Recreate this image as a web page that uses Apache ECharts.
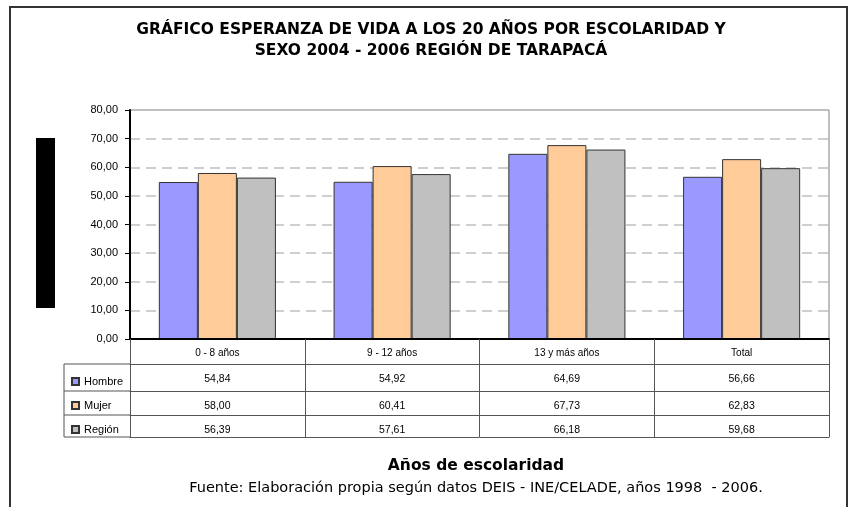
<!DOCTYPE html>
<html><head><meta charset="utf-8">
<script src="https://cdn.jsdelivr.net/npm/echarts@6/dist/echarts.min.js"></script>
<style>html,body{margin:0;padding:0;background:#fff}#c{width:851px;height:507px}</style>
</head><body><div id="c"></div>
<script>
var categories = ['0 - 8 años', '9 - 12 años', '13 y más años', 'Total'];
var seriesNames = ['Hombre', 'Mujer', 'Región'];
var hombre = [54.84, 54.92, 64.69, 56.66];
var mujer = [58.00, 60.41, 67.73, 62.83];
var region = [56.39, 57.61, 66.18, 59.68];
var colors = ['#9999FF', '#FFCC99', '#C0C0C0'];
var titleLines = ['GRÁFICO ESPERANZA DE VIDA A LOS 20 AÑOS POR ESCOLARIDAD Y', 'SEXO 2004 - 2006 REGIÓN DE TARAPACÁ'];
var xTitle = 'Años de escolaridad';
var source = 'Fuente: Elaboración propia según datos DEIS - INE/CELADE, años 1998  - 2006.';

var FONT = '"Liberation Sans", Arial, sans-serif';
var WFONT = '"DejaVu Sans", sans-serif';
function fmt(v){ return v.toFixed(2).replace('.', ','); }
var allVals = [hombre, mujer, region];

var G = {left:130, right:22, top:110, bottom:168};
var rowOffsets = [25, 52, 76, 98];

var xAxes = [{
  type:'category', data:categories, gridIndex:0, position:'bottom',
  axisLine:{show:true, lineStyle:{color:'#000', width:2}},
  axisTick:{show:true, interval:0, length:98, lineStyle:{color:'#555', width:1}},
  axisLabel:{color:'#000', fontSize:10, fontFamily:FONT, margin:9, interval:0},
  z:5
}];
for (var i=0;i<4;i++){
  (function(i){
    xAxes.push({
      type:'category', data:categories, gridIndex:0, position:'bottom', offset:rowOffsets[i],
      axisLine:{show:true, lineStyle:{color:'#555', width:1}},
      axisTick:{show:false},
      axisLabel:{show:i<3, color:'#000', fontSize:10.5, fontFamily:FONT, margin:10, interval:0,
        formatter:function(v, idx){ return i<3 ? fmt(allVals[i][idx]) : ''; }}
    });
  })(i);
}

var series = seriesNames.map(function(n, k){
  return {
    name:n, type:'bar', data:allVals[k], xAxisIndex:0, yAxisIndex:0,
    barGap:'0%', barCategoryGap:'33%',
    itemStyle:{color:colors[k], borderColor:'#333', borderWidth:1},
    emphasis:{disabled:true}
  };
});

var legL = 64, legR = 130;
var lineYs = [364, 391, 415, 437];
var graphics = [
  {type:'rect', shape:{x:10, y:7, width:837, height:520}, style:{fill:'none', stroke:'#333', lineWidth:2}, silent:true},
  {type:'rect', shape:{x:36, y:138, width:19, height:170}, style:{fill:'#000'}, silent:true},
  {type:'line', shape:{x1:legL, y1:lineYs[0], x2:legL, y2:lineYs[3]}, style:{stroke:'#555', lineWidth:1}},
  {type:'text', x:476, y:466, style:{text:xTitle, font:'bold 15.5px '+WFONT, fill:'#000', textAlign:'center', textVerticalAlign:'middle'}},
  {type:'text', x:476, y:488, style:{text:source, font:'14.5px '+WFONT, fill:'#000', textAlign:'center', textVerticalAlign:'middle'}},
  {type:'text', x:431, y:30, style:{text:titleLines[0], font:'bold 15.5px '+WFONT, fill:'#000', textAlign:'center', textVerticalAlign:'middle'}},
  {type:'text', x:431, y:51, style:{text:titleLines[1], font:'bold 15.5px '+WFONT, fill:'#000', textAlign:'center', textVerticalAlign:'middle'}}
];
lineYs.forEach(function(y){
  graphics.push({type:'line', shape:{x1:legL, y1:y, x2:legR, y2:y}, style:{stroke:'#555', lineWidth:1}});
});

var chart = echarts.init(document.getElementById('c'), null, {renderer:'canvas'});
chart.setOption({
  animation:false,
  backgroundColor:'#fff',
  legend:{data:seriesNames, orient:'vertical', left:66, top:371, itemWidth:7, itemHeight:7, itemGap:13,
    icon:'rect', textStyle:{fontFamily:FONT, fontSize:11, color:'#000'}, selectedMode:false},
  grid:{left:G.left, right:G.right, top:G.top, bottom:G.bottom, show:true, borderColor:'#808080', borderWidth:1, backgroundColor:'transparent'},
  xAxis:xAxes,
  yAxis:{type:'value', min:0, max:80, interval:10,
    axisLine:{show:true, lineStyle:{color:'#000', width:2}},
    axisTick:{show:true, length:5, lineStyle:{color:'#000'}},
    axisLabel:{formatter:function(v){return fmt(v);}, color:'#000', fontSize:11, fontFamily:FONT, margin:12},
    splitLine:{show:true, lineStyle:{color:'#c0c0c0', type:[10,6], width:1.5}}
  },
  series:series,
  graphic:graphics
});
</script></body></html>
